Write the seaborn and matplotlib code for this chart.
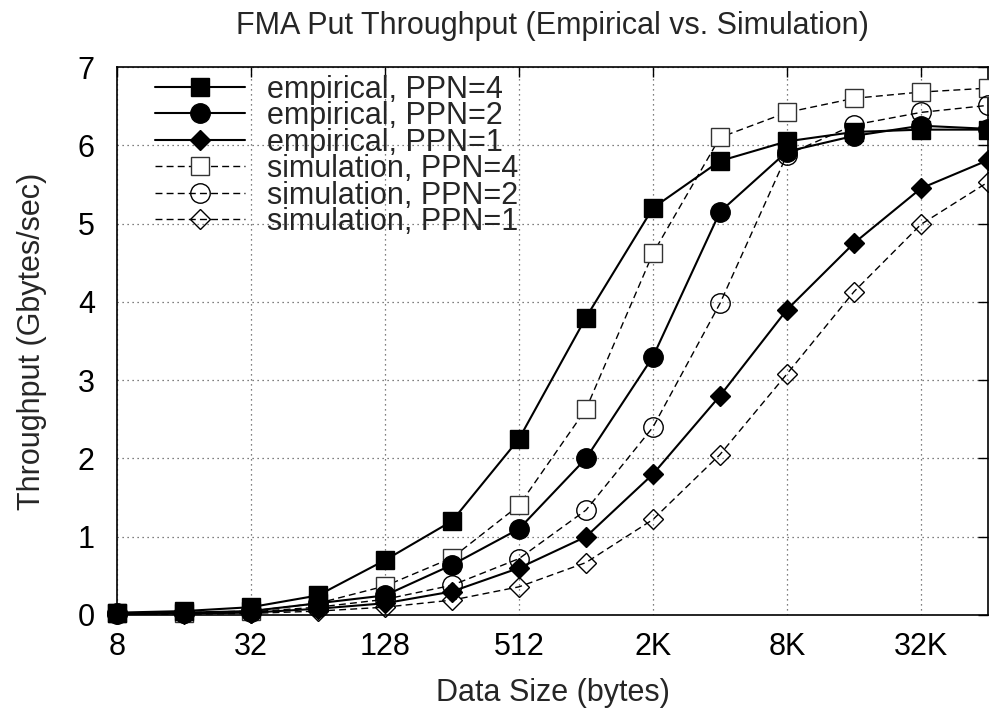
import matplotlib
matplotlib.use("Agg")
import matplotlib.pyplot as plt
import seaborn as sns
import pandas as pd
import numpy as np
from matplotlib.ticker import FixedLocator, FixedFormatter, NullLocator

sizes = [8, 16, 32, 64, 128, 256, 512, 1024, 2048, 4096, 8192, 16384, 32768, 65536]
emp_ppn4 = [0.03, 0.05, 0.10, 0.25, 0.70, 1.20, 2.25, 3.80, 5.20, 5.80, 6.05, 6.17, 6.20, 6.20]
emp_ppn2 = [0.02, 0.03, 0.05, 0.15, 0.25, 0.64, 1.10, 2.00, 3.30, 5.15, 5.92, 6.12, 6.25, 6.21]
emp_ppn1 = [0.01, 0.02, 0.03, 0.08, 0.15, 0.30, 0.60, 1.00, 1.80, 2.80, 3.90, 4.75, 5.45, 5.81]
sim_ppn4 = [0.02, 0.03, 0.05, 0.15, 0.37, 0.73, 1.40, 2.63, 4.62, 6.10, 6.42, 6.60, 6.68, 6.73]
sim_ppn2 = [0.01, 0.02, 0.04, 0.10, 0.20, 0.38, 0.72, 1.34, 2.40, 3.98, 5.88, 6.26, 6.42, 6.51]
sim_ppn1 = [0.01, 0.01, 0.02, 0.05, 0.10, 0.19, 0.36, 0.67, 1.22, 2.05, 3.08, 4.13, 4.99, 5.53]

labels = ["empirical, PPN=4", "empirical, PPN=2", "empirical, PPN=1",
          "simulation, PPN=4", "simulation, PPN=2", "simulation, PPN=1"]
series = [emp_ppn4, emp_ppn2, emp_ppn1, sim_ppn4, sim_ppn2, sim_ppn1]

tick_vals = [8, 32, 128, 512, 2048, 8192, 32768]
tick_labels = ["8", "32", "128", "512", "2K", "8K", "32K"]

sns.set_theme(style="white")
plt.rcParams['font.family'] = ['Liberation Sans', 'DejaVu Sans']

FS = 22

fig = plt.figure(figsize=(9.89, 7.10), dpi=100)
ax = fig.add_axes([117/989, 95/710, (988-117)/989, (615-67)/710])

styles = [
    dict(marker="s", ls="-", lw=1.5, ms=13, mfc="black", mec="black", mew=1),
    dict(marker="o", ls="-", lw=1.5, ms=14, mfc="black", mec="black", mew=1),
    dict(marker="D", ls="-", lw=1.5, ms=10, mfc="black", mec="black", mew=1),
    dict(marker="s", ls=(0, (5, 3)), lw=1.0, ms=13, mfc="white", mec="#333333", mew=1.0),
    dict(marker="o", ls=(0, (5, 3)), lw=1.0, ms=14, mfc="none", mec="black", mew=1.0),
    dict(marker="D", ls=(0, (5, 3)), lw=1.0, ms=10, mfc="none", mec="black", mew=1.0),
]

df = pd.DataFrame({"size": sizes})
for lab, vals in zip(labels, series):
    df[lab] = vals

order = [3, 4, 5, 2, 1, 0]
for i in order:
    lab = labels[i]
    st = styles[i]
    sns.lineplot(data=df, x="size", y=lab, ax=ax, color="black",
                 linestyle=st["ls"], linewidth=st["lw"], marker=st["marker"],
                 markersize=st["ms"], markerfacecolor=st["mfc"],
                 markeredgecolor=st["mec"], markeredgewidth=st["mew"],
                 label=lab, clip_on=False, zorder=3 + (i < 3))

ax.set_xscale("log", base=2)
ax.set_xlim(8, 65536)
ax.set_ylim(0, 7)
ax.xaxis.set_major_locator(FixedLocator(tick_vals))
ax.xaxis.set_major_formatter(FixedFormatter(tick_labels))
ax.xaxis.set_minor_locator(NullLocator())
ax.set_yticks(range(0, 8))

ax.grid(True, which="major", color="#555555", linestyle=(0, (1, 3)), linewidth=0.9)
ax.tick_params(axis="both", which="major", direction="in", length=7, width=1,
               top=True, right=True, labelsize=FS, colors="black")
ax.tick_params(axis="y", pad=16)
ax.tick_params(axis="x", pad=12)
for sp in ax.spines.values():
    sp.set_color("black")
    sp.set_linewidth(1.2)

ax.set_xlabel("Data Size (bytes)", fontsize=FS, labelpad=12)
ax.set_ylabel("Throughput (Gbytes/sec)", fontsize=FS, labelpad=22)
ax.set_title("FMA Put Throughput (Empirical vs. Simulation)", fontsize=FS, pad=24)

hs, ls = ax.get_legend_handles_labels()
m = dict(zip(ls, hs))
leg = ax.legend([m[l] for l in labels], labels, loc="upper left", frameon=False,
                fontsize=FS, handlelength=2.95, handletextpad=0.72, labelspacing=-0.115,
                borderaxespad=0, borderpad=0, bbox_to_anchor=((155-117)/871, 0.986))

fig.savefig("out.png", dpi=100, facecolor="white")
